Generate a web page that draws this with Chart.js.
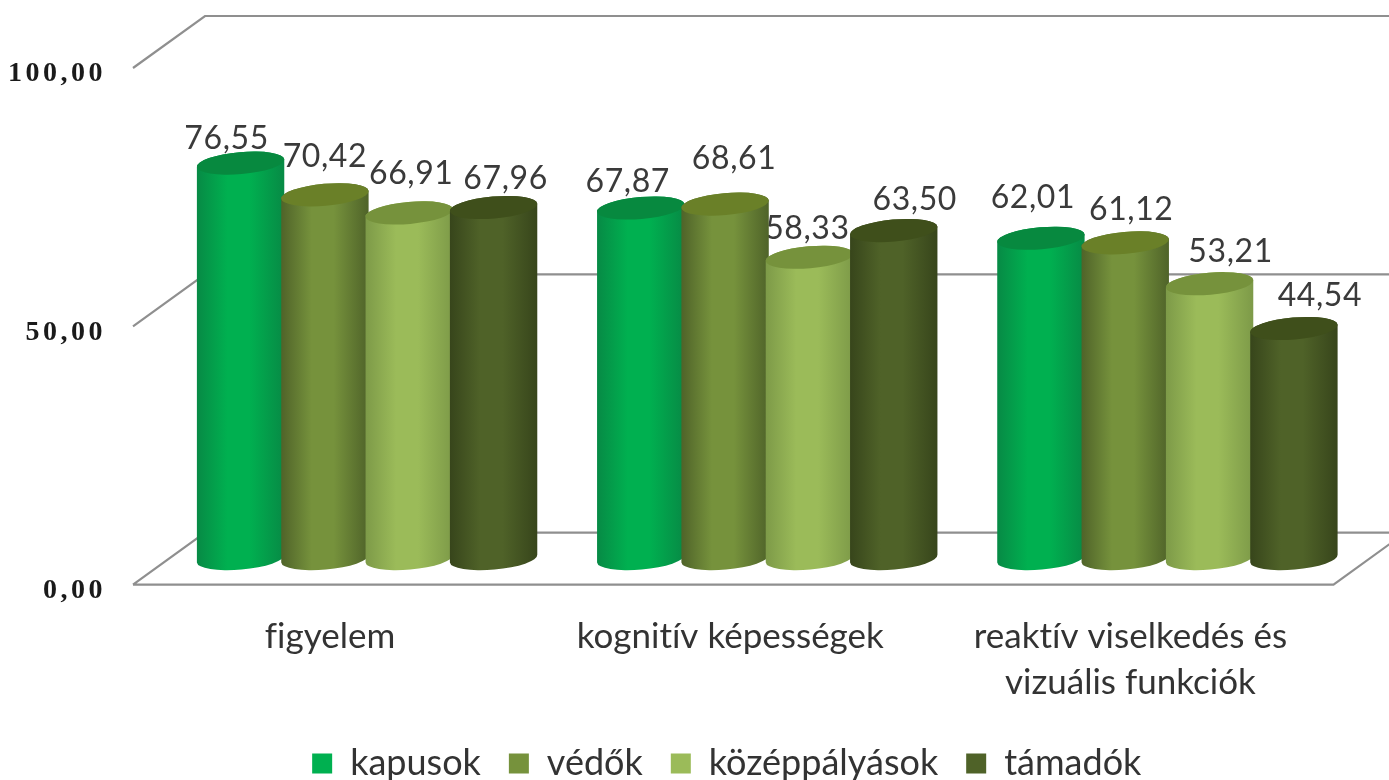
<!DOCTYPE html>
<html><head><meta charset="utf-8">
<style>html,body{margin:0;padding:0;background:#fff}canvas{display:block}</style>
<script src="https://cdn.jsdelivr.net/npm/chart.js@4"></script>
</head><body>
<canvas id="c" width="1389" height="780"></canvas>
<script>
const categories = ["figyelem", "kognitív képességek", ["reaktív viselkedés és", "vizuális funkciók"]];
const seriesNames = ["kapusok", "védők", "középpályások", "támadók"];
const kapusok = [76.55, 67.87, 62.01];
const vedok = [70.42, 68.61, 61.12];
const kozeppalyasok = [66.91, 58.33, 53.21];
const tamadok = [67.96, 63.50, 44.54];
const seriesColors = ["#00B050", "#76923C", "#9BBB59", "#4F6228"];
const edgeColors = ["#078a45", "#4f6329", "#7d9a48", "#37451b"];
const capColors = ["#07893f", "#6a8028", "#76923c", "#3f4f1b"];
const labelNudgeX = [[-14,-13,-8],[0,9,6],[2,-2,21],[12,21,26]];
const labelNudgeY = [[-24,-26,-41],[-38,-45,-33],[-39,-29,-32],[-29,-31,-33]];
const textFont = "Lato, 'Open Sans', sans-serif";
const depthFront = {x:-34, y:26}, depthBack = {x:38, y:-26};

const fmt = v => v.toFixed(2).replace('.', ',');

function spaced(scale, ctx, spacing){
  if (scale._spacedDone) return;
  scale._spacedDone = true;
  const orig = scale.drawLabels;
  scale.drawLabels = function(a){
    ctx.letterSpacing = spacing; orig.call(this, a); ctx.letterSpacing = '0px';
  };
}

const cyl = {
  id:'cyl',
  afterLayout(chart){
    const lg = chart.legend;
    lg.top += 11.6; lg.bottom += 11.6;
    lg.left += 43; lg.right += 43;
    spaced(chart.scales.y, chart.ctx, '3.5px');
    spaced(chart.scales.x, chart.ctx, '0.01px');
  },
  beforeDatasetsDraw(chart){
    const {ctx, scales:{y}, chartArea:a} = chart;
    ctx.save();
    ctx.strokeStyle = '#8f8f8f'; ctx.lineWidth = 2.2;
    ctx.beginPath();
    y.ticks.forEach(t=>{
      const p = y.getPixelForValue(t.value);
      ctx.moveTo(a.left+depthFront.x, p+depthFront.y);
      ctx.lineTo(a.left+depthBack.x, p+depthBack.y);
      ctx.lineTo(a.right+depthBack.x, p+depthBack.y);
    });
    const p0 = y.getPixelForValue(0);
    ctx.moveTo(a.left+depthFront.x, p0+depthFront.y);
    ctx.lineTo(a.right+depthFront.x, p0+depthFront.y);
    ctx.lineTo(a.right+depthBack.x, p0+depthBack.y);
    ctx.stroke();
    ctx.fillStyle = '#3a3a3a'; ctx.font = "32px "+textFont;
    ctx.letterSpacing = '0.6px';
    ctx.textAlign='center'; ctx.textBaseline='middle';
    chart.data.datasets.forEach((d,di)=>{
      chart.getDatasetMeta(di).data.forEach((el,i)=>{
        ctx.fillText(fmt(d.data[i]), el.x+labelNudgeX[di][i], el.y+labelNudgeY[di][i]);
      });
    });
    ctx.letterSpacing = '0px';
    ctx.restore();
  },
  beforeDatasetDraw(){ return false; },
  afterDatasetsDraw(chart){
    const {ctx} = chart;
    const tilt = -5*Math.PI/180, ry = 11;
    ctx.save();
    chart.data.datasets.forEach((d,di)=>{
      chart.getDatasetMeta(di).data.forEach(el=>{
        const rx = el.width/2, x = el.x, top = el.y, base = el.base;
        const g = ctx.createLinearGradient(x-rx,0,x+rx,0);
        g.addColorStop(0, edgeColors[di]);
        g.addColorStop(.35, seriesColors[di]);
        g.addColorStop(.6, seriesColors[di]);
        g.addColorStop(1, edgeColors[di]);
        ctx.fillStyle = g;
        ctx.beginPath();
        ctx.ellipse(x, base, rx, ry, tilt, Math.PI, 0, true);
        ctx.ellipse(x, top, rx, ry, tilt, 0, Math.PI, true);
        ctx.closePath(); ctx.fill();
        ctx.fillStyle = capColors[di];
        ctx.beginPath();
        ctx.ellipse(x, top, rx, ry, tilt, 0, Math.PI*2);
        ctx.fill();
      });
    });
    ctx.restore();
  }
};

new Chart(document.getElementById('c'), {
  type:'bar',
  data:{labels:categories, datasets:[kapusok,vedok,kozeppalyasok,tamadok].map((data,i)=>({
    label:seriesNames[i], data, backgroundColor:seriesColors[i], borderWidth:0,
    categoryPercentage:.843, barPercentage:1.04
  }))},
  options:{
    responsive:false, animation:false,
    layout:{padding:{left:0,right:21.5,top:42,bottom:0}},
    plugins:{
      tooltip:{enabled:false},
      legend:{position:'bottom',labels:{boxWidth:20,boxHeight:20,padding:28,color:'#333',font:{family:textFont,size:36}}}
    },
    scales:{
      y:{min:0,max:100,
        afterFit(s){s.width=167;s.paddingTop=0;s.paddingBottom=0;},
        grid:{display:false},border:{display:false},
        ticks:{stepSize:50,padding:53,labelOffset:32,color:'#1a1a1a',
          font:{family:"'Liberation Serif'",weight:'bold',size:28},
          callback:v=>fmt(v)}},
      x:{
        afterFit(s){s.height=147.4;s.paddingLeft=0;s.paddingRight=0;},
        grid:{display:false},border:{display:false},
        ticks:{padding:48,labelOffset:-37,maxRotation:0,autoSkip:false,color:'#333',
          font:{family:textFont,size:35,lineHeight:1.29}}}
    }
  },
  plugins:[cyl]
});
</script>
</body></html>
